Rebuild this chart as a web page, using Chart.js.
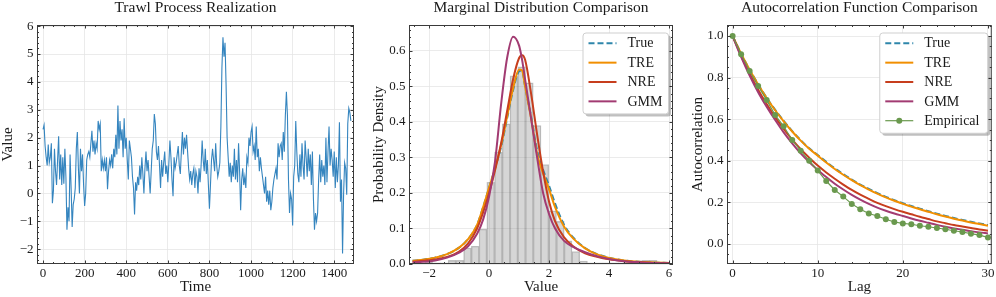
<!DOCTYPE html>
<html>
<head>
<meta charset="utf-8">
<title>Trawl process: realization, marginal and ACF</title>
<script src="https://cdn.jsdelivr.net/npm/chart.js@4"></script>
<style>
  html, body { margin: 0; padding: 0; background: #fff; }
  #wrap { position: relative; width: 996px; height: 297px; overflow: hidden; }
  .panel { position: absolute; top: 0; height: 297px; }
</style>
</head>
<body>
<div id="wrap">
  <div class="panel" style="left:0px;width:362px"><canvas id="c1" width="362" height="297"></canvas></div>
  <div class="panel" style="left:362px;width:318px"><canvas id="c2" width="318" height="297"></canvas></div>
  <div class="panel" style="left:680px;width:316px"><canvas id="c3" width="316" height="297"></canvas></div>
</div>
<script>
// ---- panel 1: trawl process realization (one value every 5 time steps) ----
const timeStep = 5;
const series = [
  2.3, 2.45, 1.7, 1.3, 1.0, 1.75, 1.1, 1.3, 1.8, -0.35,
  0.1, 1.6, 0.8, 0.3, 1.2, 2.05, 0.5, 1.4, 0.3, 1.3,
  0.35, 1.6, 0.6, -1.3, -0.5, -1.0, 1.4, 0.2, -1.2, -0.4,
  -0.2, 0.2, 1.6, 2.2, 0.9, 0.0, 1.6, 0.8, 1.4, 0.3,
  -0.45, 0.0, 1.2, 1.4, 1.5, 1.3, 1.8, 2.25, 1.5, 1.9,
  1.4, 1.8, 1.6, 2.6, 2.3, 2.5, 0.8, 1.2, 0.9, 1.2,
  0.8, 1.3, 0.15, 0.8, 1.2, 1.0, 1.4, 0.9, 1.6, 1.3,
  2.1, 1.4, 3.15, 1.6, 2.6, 1.9, 2.3, 1.3, 2.7, 1.6,
  2.0, 1.2, 0.5, 1.9, 1.6, 1.3, 0.6, 0.2, -0.75, 0.4,
  0.1, 0.6, 0.3, 1.0, 0.5, 1.3, 0.7, 0.0, 0.9, 1.5,
  0.8, 1.2, 0.6, 0.0, 0.8, 1.6, 1.9, 2.85, 2.5, 1.5,
  1.2, 1.7, 1.0, 0.2, 1.2, 0.6, 1.1, 1.5, 0.7, 1.0,
  0.4, 1.1, 1.9, 1.3, 0.5, -0.1, 1.3, 0.9, 1.1, 1.4,
  1.7, 1.0, 0.7, 1.5, 2.2, 1.4, 2.0, 1.6, 2.1, 1.5,
  0.9, 0.5, 0.8, 0.3, 0.7, 0.9, 0.2, 0.8, 0.6, 0.0,
  0.9, 0.4, 1.0, 1.9, 1.2, 0.8, 1.6, 0.7, 1.2, 0.3,
  -0.55, 0.3, 1.2, 1.6, 1.2, 0.8, 1.8, 1.0, 0.6, 0.8,
  1.1, 2.4, 4.5, 5.6, 4.9, 5.4, 3.9, 2.0, 1.3, 0.6,
  1.1, 0.4, 1.0, 0.6, 1.6, 0.5, 1.2, 0.4, 1.8, 0.8,
  -0.6, 0.5, 0.9, 0.3, 0.6, 0.2, 1.3, 1.1, 2.0, 1.7,
  2.2, 2.4, 1.5, 1.7, 1.2, 2.4, 1.3, 1.6, 0.8, 1.3,
  0.9, 0.6, 0.3, 0.0, 0.6, -0.3, 0.1, -0.4, 0.1, -0.6,
  -0.3, 0.2, 0.5, 0.7, 0.9, 0.5, 1.8, 1.3, 1.7, 1.8,
  1.2, 2.2, 1.5, 2.8, 3.65, 2.8, 0.5, -0.7, 0.0, -0.2,
  -1.15, 0.6, 1.0, 2.6, 1.5, 0.7, 0.4, 1.4, 0.6, 1.8,
  1.0, 0.5, 1.9, 1.3, 0.6, 1.6, 0.8, 1.4, 0.3, 1.5,
  -0.2, -1.3, -0.7, -1.0, -0.7, 0.5, 1.4, 0.4, 1.2, 0.6,
  1.0, 0.3, 2.0, 0.4, 1.5, 2.4, 1.0, 1.6, 1.2, 0.6,
  1.5, 0.2, 1.3, 0.4, 1.0, 2.55, -0.3, 0.5, -2.15, 0.0,
  1.1, 0.9, -0.05, 2.5, 3.05, 2.9, 2.6
];
const times = series.map((_, i) => i * timeStep);

// ---- panel 2: marginal distribution ----
const binCenters = [
  -2.011, -1.753, -1.495, -1.237, -0.979, -0.721, -0.463, -0.205, 0.053, 0.311,
  0.569, 0.827, 1.085, 1.343, 1.601, 1.859, 2.117, 2.375, 2.633, 2.891,
  3.149, 3.407, 3.665, 3.923, 4.181, 4.439, 4.697, 4.955, 5.213, 5.471
];
const binDensity = [
  0.005, 0.003, 0.003, 0.01, 0.01, 0.045, 0.05, 0.098, 0.23, 0.315,
  0.395, 0.53, 0.555, 0.51, 0.39, 0.28, 0.15, 0.12, 0.065, 0.035,
  0.008, 0.003, 0.003, 0.003, 0.003, 0.003, 0.003, 0.008, 0.01, 0.01
];
const densityX = [-2.55, -2.2, -1.8, -1.4, -1.0, -0.7, -0.4, -0.2, 0, 0.2, 0.4, 0.6, 0.8, 1.0, 1.1, 1.2, 1.4, 1.6, 1.8, 2.0, 2.2, 2.5, 2.8, 3.2, 3.6, 4.0, 4.5, 5.0, 5.5, 6.0];
const densTrue = [0.009, 0.012, 0.018, 0.028, 0.046, 0.07, 0.11, 0.16, 0.215, 0.27, 0.33, 0.41, 0.49, 0.543, 0.545, 0.5, 0.415, 0.32, 0.265, 0.22, 0.17, 0.11, 0.075, 0.045, 0.028, 0.018, 0.01, 0.006, 0.004, 0.003];
const densTRE  = [0.009, 0.012, 0.018, 0.028, 0.046, 0.07, 0.11, 0.16, 0.215, 0.27, 0.335, 0.415, 0.495, 0.548, 0.545, 0.5, 0.41, 0.31, 0.255, 0.21, 0.16, 0.105, 0.072, 0.044, 0.027, 0.017, 0.01, 0.006, 0.004, 0.003];
const densNRE  = [0.006, 0.009, 0.013, 0.02, 0.035, 0.058, 0.1, 0.145, 0.2, 0.265, 0.34, 0.43, 0.52, 0.58, 0.588, 0.575, 0.48, 0.365, 0.26, 0.175, 0.12, 0.075, 0.05, 0.03, 0.02, 0.013, 0.008, 0.005, 0.003, 0.002];
const densGMM  = [0.004, 0.006, 0.01, 0.018, 0.032, 0.05, 0.085, 0.125, 0.19, 0.29, 0.45, 0.58, 0.64, 0.615, 0.575, 0.52, 0.41, 0.3, 0.2, 0.14, 0.1, 0.065, 0.048, 0.033, 0.022, 0.014, 0.008, 0.005, 0.003, 0.002];

// ---- panel 3: autocorrelation ----
const lags = [0,1,2,3,4,5,6,7,8,9,10,11,12,13,14,15,16,17,18,19,20,21,22,23,24,25,26,27,28,29,30];
const acfTrue = [1.0, 0.915, 0.838, 0.768, 0.703, 0.645, 0.592, 0.543, 0.499, 0.46, 0.428, 0.395, 0.364, 0.336, 0.31, 0.286, 0.265, 0.245, 0.227, 0.211, 0.196, 0.183, 0.17, 0.158, 0.146, 0.135, 0.125, 0.116, 0.107, 0.099, 0.091];
const acfTRE  = [1.0, 0.915, 0.838, 0.767, 0.702, 0.643, 0.59, 0.541, 0.497, 0.458, 0.425, 0.392, 0.361, 0.333, 0.307, 0.283, 0.262, 0.242, 0.224, 0.208, 0.193, 0.18, 0.167, 0.155, 0.143, 0.132, 0.122, 0.113, 0.104, 0.096, 0.088];
const acfNRE  = [1.0, 0.905, 0.82, 0.742, 0.673, 0.61, 0.553, 0.502, 0.456, 0.415, 0.377, 0.344, 0.314, 0.286, 0.26, 0.237, 0.217, 0.198, 0.182, 0.168, 0.155, 0.143, 0.131, 0.12, 0.109, 0.1, 0.091, 0.084, 0.077, 0.07, 0.064];
const acfGMM  = [1.0, 0.9, 0.81, 0.73, 0.66, 0.596, 0.537, 0.484, 0.436, 0.394, 0.356, 0.322, 0.29, 0.262, 0.236, 0.213, 0.193, 0.175, 0.16, 0.147, 0.135, 0.123, 0.112, 0.102, 0.092, 0.083, 0.075, 0.069, 0.062, 0.056, 0.051];
const acfEmp  = [1.0, 0.912, 0.832, 0.76, 0.692, 0.62, 0.566, 0.5, 0.449, 0.4, 0.353, 0.303, 0.26, 0.228, 0.193, 0.167, 0.147, 0.135, 0.119, 0.106, 0.099, 0.095, 0.088, 0.083, 0.077, 0.071, 0.064, 0.058, 0.05, 0.043, 0.032];

const C = { blue: '#2E86AB', series: '#3585BF', orange: '#F18F01', red: '#C73E1D', purple: '#A23B72', green: '#6A994E' };
const FONT = "'Liberation Serif', 'DejaVu Serif', serif";

Chart.defaults.font.family = FONT;
Chart.defaults.color = '#1a1a1a';

const minus = s => String(s).replace('-', '\u2212');

// inward ticks on all four sides plus the box frame
const frameTicks = {
  id: 'frameTicks',
  afterDraw(chart, args, opts) {
    const {ctx, chartArea: a, scales} = chart;
    ctx.save();
    ctx.strokeStyle = '#3a3a3a';
    ctx.lineWidth = 1;
    ctx.strokeRect(a.left + 0.5, a.top + 0.5, a.right - a.left - 1, a.bottom - a.top - 1);
    const marks = (scale, minor) => {
      const out = [];
      const start = Math.ceil(scale.min / minor - 1e-9);
      for (let k = start; k * minor <= scale.max + 1e-9; k++) {
        const v = k * minor;
        const major = scale.ticks.some(t => Math.abs(t.value - v) < minor / 10);
        out.push([scale.getPixelForValue(v), major]);
      }
      return out;
    };
    marks(scales.x, opts.xMinor).forEach(([p, major]) => {
      const L = major ? 3.5 : 2;
      const x = Math.round(p) + 0.5;
      seg(ctx, x, a.bottom, x, a.bottom - L);
      seg(ctx, x, a.top, x, a.top + L);
    });
    marks(scales.y, opts.yMinor).forEach(([p, major]) => {
      const L = major ? 3.5 : 2;
      const y = Math.round(p) + 0.5;
      seg(ctx, a.left, y, a.left + L, y);
      seg(ctx, a.right, y, a.right - L, y);
    });
    ctx.restore();
  }
};

// framed legend with drop shadow in the upper right corner
const boxLegend = {
  id: 'boxLegend',
  afterDraw(chart, args, opts) {
    if (!opts.show) return;
    const {ctx, chartArea: a} = chart;
    const items = chart.data.datasets.filter(d => d.inLegend);
    const rowH = 19.35;
    const w = opts.width, h = items.length * rowH + 3.5;
    const x = a.right - opts.right - w, y = a.top + opts.top;
    ctx.save();
    ctx.fillStyle = 'rgba(0,0,0,0.25)';
    ctx.beginPath(); ctx.roundRect(x + 3, y + 3, w, h, 3); ctx.fill();
    ctx.fillStyle = '#ffffff';
    ctx.strokeStyle = '#cfcfcf';
    ctx.lineWidth = 1;
    ctx.beginPath(); ctx.roundRect(x + 0.5, y + 0.5, w, h, 3); ctx.fill(); ctx.stroke();
    ctx.font = '14px ' + FONT;
    ctx.textBaseline = 'middle';
    items.forEach((d, i) => {
      const cy = y + 10.8 + i * rowH;
      ctx.strokeStyle = d.borderColor;
      ctx.lineWidth = d.borderWidth;
      ctx.setLineDash(d.borderDash || []);
      seg(ctx, x + 6, cy, x + 34, cy);
      ctx.setLineDash([]);
      if (d.pointRadius > 0) {
        ctx.fillStyle = d.borderColor;
        ctx.beginPath(); ctx.arc(x + 20, cy, d.pointRadius, 0, Math.PI * 2); ctx.fill();
      }
      ctx.fillStyle = '#1a1a1a';
      ctx.fillText(d.label, x + 45, cy + 0.5);
    });
    ctx.restore();
  }
};
function seg(ctx, x1, y1, x2, y2) { ctx.beginPath(); ctx.moveTo(x1, y1); ctx.lineTo(x2, y2); ctx.stroke(); }

function makeOptions(o) {
  return {
    responsive: false,
    animation: false,
    devicePixelRatio: 1,
    layout: { padding: { left: 0, right: o.padRight, top: 0, bottom: 0 } },
    plugins: {
      legend: { display: false },
      tooltip: { enabled: false },
      title: {
        display: true, text: o.title, fullSize: false,
        font: { size: 15.5, weight: 'normal', family: FONT, lineHeight: 1 },
        padding: { top: 0, bottom: 9.5 }
      },
      frameTicks: { xMinor: o.xMinor, yMinor: o.yMinor },
      boxLegend: o.legend || { show: false }
    },
    scales: {
      x: {
        type: 'linear', min: o.xMin, max: o.xMax, offset: false,
        afterFit: s => { s.height = 33; },
        grid: { color: '#e6e6e6', lineWidth: 0.8, drawTicks: false, offset: false },
        border: { display: false },
        ticks: { stepSize: o.xStep, includeBounds: false, autoSkip: false, maxRotation: 0, padding: 1.5,
                 font: { size: 13, lineHeight: 1.2 }, callback: v => minus(o.xFmt ? v.toFixed(o.xFmt) : v) },
        title: { display: true, text: o.xTitle, font: { size: 15, lineHeight: 1.2 }, padding: { top: 0, bottom: 1 } }
      },
      y: {
        type: 'linear', min: o.yMin, max: o.yMax,
        afterFit: s => { s.width = o.yWidth; },
        grid: { color: '#e6e6e6', lineWidth: 0.8, drawTicks: false },
        border: { display: false },
        ticks: { stepSize: o.yStep, includeBounds: false, autoSkip: false, padding: 3.5,
                 font: { size: 13 }, callback: v => minus(o.yFmt ? v.toFixed(o.yFmt) : v) },
        title: { display: true, text: o.yTitle, font: { size: 15, lineHeight: 1 }, padding: { top: o.yTitleX - 7.5, bottom: 0 } }
      }
    }
  };
}

const pts = (xs, ys) => ys.map((v, i) => ({ x: xs[i], y: v }));

new Chart(document.getElementById('c1'), {
  type: 'line',
  data: { datasets: [{
    label: 'Trawl process', data: pts(times, series),
    borderColor: C.series, borderWidth: 1.1, pointRadius: 0, tension: 0
  }]},
  options: makeOptions({
    title: 'Trawl Process Realization', xTitle: 'Time', yTitle: 'Value',
    xMin: -29, xMax: 1495, xStep: 200, xMinor: 50,
    yMin: -2.53, yMax: 6.04, yStep: 1, yMinor: 0.2,
    yWidth: 37, yTitleX: 8, padRight: 8
  }),
  plugins: [frameTicks, boxLegend]
});

new Chart(document.getElementById('c2'), {
  data: { datasets: [
    { type: 'bar', label: 'Histogram', data: pts(binCenters, binDensity), order: 10,
      backgroundColor: 'rgba(128,128,128,0.32)', borderColor: 'rgba(80,80,80,0.32)', borderWidth: 0.7,
      barPercentage: 1, categoryPercentage: 1 },
    { type: 'line', label: 'True', inLegend: true, data: pts(densityX, densTrue), order: 4,
      borderColor: C.blue, borderWidth: 2, borderDash: [6, 3], pointRadius: 0, cubicInterpolationMode: 'monotone' },
    { type: 'line', label: 'TRE', inLegend: true, data: pts(densityX, densTRE), order: 3,
      borderColor: C.orange, borderWidth: 2, pointRadius: 0, cubicInterpolationMode: 'monotone' },
    { type: 'line', label: 'NRE', inLegend: true, data: pts(densityX, densNRE), order: 2,
      borderColor: C.red, borderWidth: 2, pointRadius: 0, cubicInterpolationMode: 'monotone' },
    { type: 'line', label: 'GMM', inLegend: true, data: pts(densityX, densGMM), order: 1,
      borderColor: C.purple, borderWidth: 2, pointRadius: 0, cubicInterpolationMode: 'monotone' }
  ]},
  options: makeOptions({
    title: 'Marginal Distribution Comparison', xTitle: 'Value', yTitle: 'Probability Density',
    xMin: -2.67, xMax: 6.13, xStep: 2, xMinor: 0.5,
    yMin: 0, yMax: 0.673, yStep: 0.1, yMinor: 0.02, yFmt: 1,
    yWidth: 47, yTitleX: 17, padRight: 7,
    legend: { show: true, width: 85.5, right: 5, top: 7.5 }
  }),
  plugins: [frameTicks, boxLegend]
});

new Chart(document.getElementById('c3'), {
  type: 'line',
  data: { datasets: [
    { label: 'True', inLegend: true, data: pts(lags, acfTrue), order: 5,
      borderColor: C.blue, borderWidth: 2, borderDash: [6, 3], pointRadius: 0, cubicInterpolationMode: 'monotone' },
    { label: 'TRE', inLegend: true, data: pts(lags, acfTRE), order: 4,
      borderColor: C.orange, borderWidth: 2, pointRadius: 0, cubicInterpolationMode: 'monotone' },
    { label: 'NRE', inLegend: true, data: pts(lags, acfNRE), order: 3,
      borderColor: C.red, borderWidth: 2, pointRadius: 0, cubicInterpolationMode: 'monotone' },
    { label: 'GMM', inLegend: true, data: pts(lags, acfGMM), order: 2,
      borderColor: C.purple, borderWidth: 2, pointRadius: 0, cubicInterpolationMode: 'monotone' },
    { label: 'Empirical', inLegend: true, data: pts(lags, acfEmp), order: 1,
      borderColor: C.green, backgroundColor: C.green, borderWidth: 1.2, pointRadius: 3, pointBorderWidth: 0,
      tension: 0 }
  ]},
  options: makeOptions({
    title: 'Autocorrelation Function Comparison', xTitle: 'Lag', yTitle: 'Autocorrelation',
    xMin: -0.66, xMax: 30.45, xStep: 10, xMinor: 2,
    yMin: -0.096, yMax: 1.053, yStep: 0.2, yMinor: 0.05, yFmt: 1,
    yWidth: 47, yTitleX: 18, padRight: 4,
    legend: { show: true, width: 108, right: 4.5, top: 7.5 }
  }),
  plugins: [frameTicks, boxLegend]
});
</script>
</body>
</html>
